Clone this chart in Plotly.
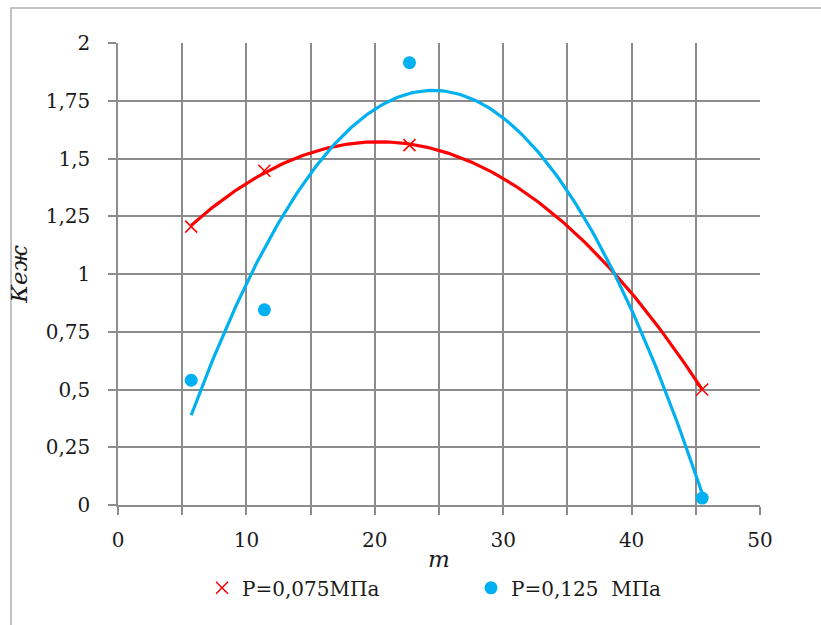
import numpy as np
import plotly.graph_objects as go

# Data
m_values = [5.7, 11.4, 22.7, 45.5]
k_p075 = [1.205, 1.447, 1.558, 0.50]
k_p125 = [0.54, 0.845, 1.915, 0.03]

name_p075 = "P=0,075МПа"
name_p125 = "P=0,125  МПа"

red = "#ff0000"
blue = "#00b0f0"
grid = "#8c8c8c"
font_family = "DejaVu Serif"
txt = "#1a1a1a"

def trend(xs, ys):
    c = np.polyfit(xs, ys, 2)
    xx = np.linspace(min(xs), max(xs), 200)
    return xx, np.polyval(c, xx)

fig = go.Figure()

tx, ty = trend(m_values, k_p075)
fig.add_trace(go.Scatter(x=tx, y=ty, mode="lines", line=dict(color=red, width=3.2), showlegend=False, hoverinfo="skip"))
tx2, ty2 = trend(m_values, k_p125)
fig.add_trace(go.Scatter(x=tx2, y=ty2, mode="lines", line=dict(color=blue, width=3.2), showlegend=False, hoverinfo="skip"))

fig.add_trace(go.Scatter(x=m_values, y=k_p075, mode="markers", name=name_p075,
                         marker=dict(symbol="x-thin", size=12, line=dict(color=red, width=1.5), color=red)))
fig.add_trace(go.Scatter(x=m_values, y=k_p125, mode="markers", name=name_p125,
                         marker=dict(symbol="circle", size=13, color=blue)))

xt = list(range(0, 51, 5))
fig.update_xaxes(range=[0, 50], tickvals=xt, ticktext=[str(v) if v % 10 == 0 else "" for v in xt],
                 showgrid=True, gridcolor=grid, gridwidth=1.5, zeroline=False,
                 showline=True, linecolor=grid, linewidth=1.5, mirror=False,
                 ticks="outside", ticklen=8, tickwidth=1.5, tickcolor=grid,
                 ticklabelstandoff=8,
                 tickfont=dict(family=font_family, size=20, color=txt),
                 title=dict(text="<i>m</i>", font=dict(family=font_family, size=23, color=txt), standoff=0))
yt = [i * 0.25 for i in range(9)]
fig.update_yaxes(range=[0, 2], tickvals=yt, ticktext=[("%g" % v).replace(".", ",") for v in yt],
                 showgrid=True, gridcolor=grid, gridwidth=1.5, zeroline=False,
                 showline=True, linecolor=grid, linewidth=1.5,
                 ticks="outside", ticklen=8, tickwidth=1.5, tickcolor=grid,
                 ticklabelstandoff=14,
                 tickfont=dict(family=font_family, size=20, color=txt),
                 title=dict(text="<i>Кеж</i>", font=dict(family=font_family, size=23, color=txt), standoff=12))

L, R, T, B = 118, 61, 43, 120
W, H = 821, 625
pw, ph = W - L - R, H - T - B
fig.add_shape(type="rect", xref="paper", yref="paper",
              x0=(11 - L) / pw, x1=(W + 20 - L) / pw,
              y0=-(H + 20 - T - ph) / ph, y1=(H - 8 - B) / ph,
              line=dict(color="#b0b0b0", width=1.5), layer="below")

fig.update_layout(
    width=W, height=H, margin=dict(l=L, r=R, t=T, b=B, autoexpand=False),
    plot_bgcolor="white", paper_bgcolor="white",
    font=dict(family=font_family),
    legend=dict(orientation="h", x=(202 - L) / pw, xanchor="left", y=-0.137, yanchor="top",
                font=dict(family=font_family, size=20, color=txt),
                entrywidth=224, entrywidthmode="pixels", itemwidth=30),
)

fig.write_html("out.html")
